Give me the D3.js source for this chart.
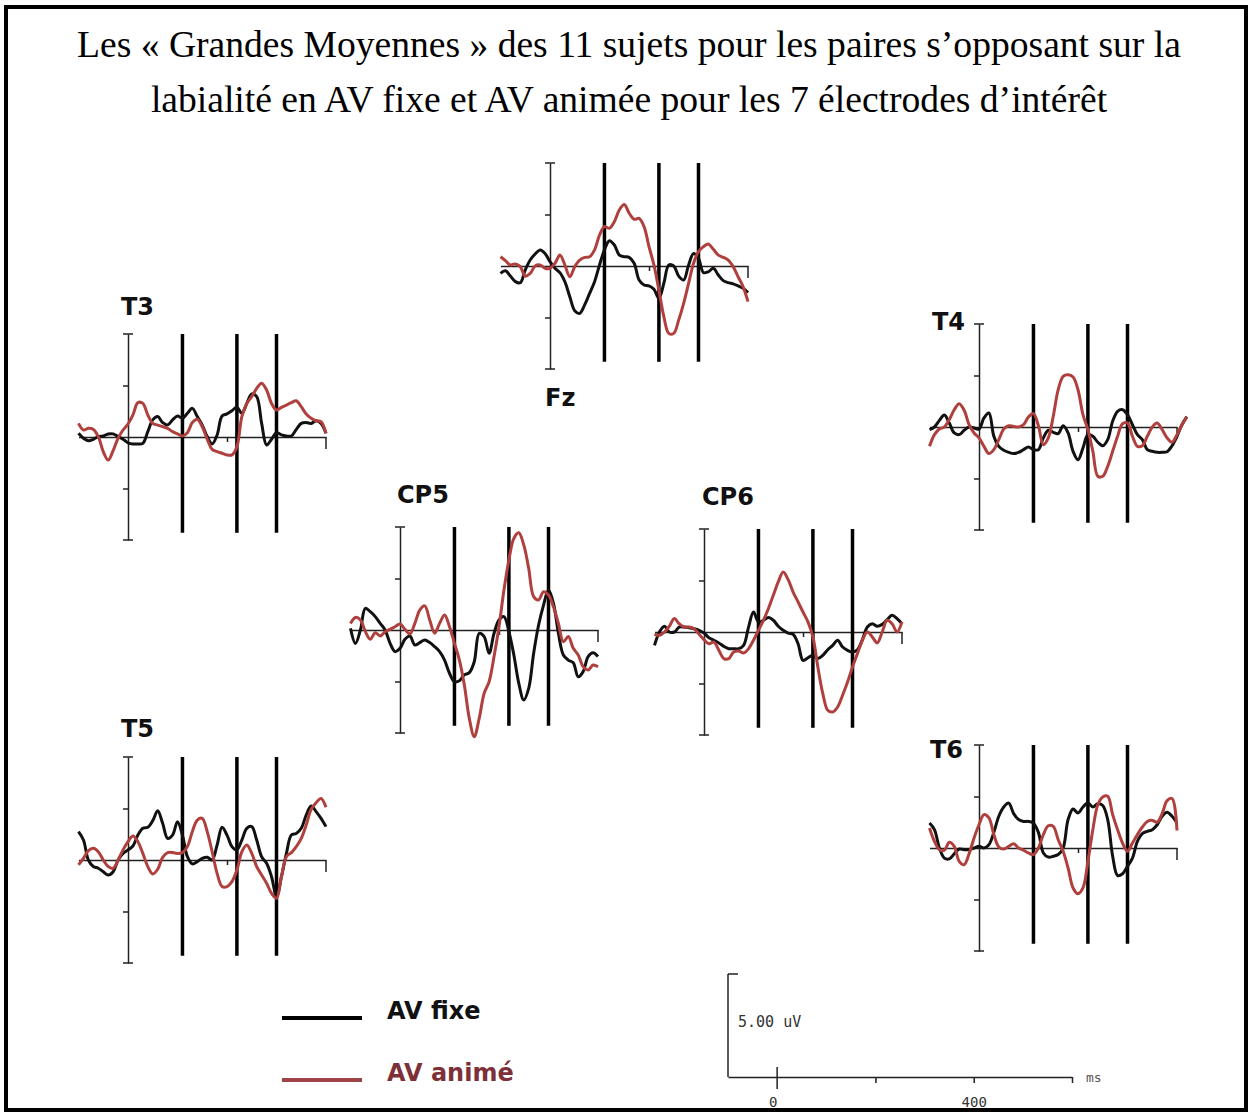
<!DOCTYPE html>
<html>
<head>
<meta charset="utf-8">
<script src="https://cdn.jsdelivr.net/npm/d3@7"></script>
<style>
body { margin: 0; background: #fff; }
</style>
</head>
<body>
<script>
// sampling of the averaged waveforms (ms)
var tStart = -100, tStep = 10;
var electrodes = ["Fz", "T3", "T4", "CP5", "CP6", "T5", "T6"];
var markerTimes = [110, 220, 300];
var seriesNames = ["AV fixe", "AV animé"];

// amplitudes in uV, one value every 10 ms from -100 ms
var fzFixe = [-0.36,-0.23,-0.49,-0.76,-0.81,-0.19,0.29,0.58,0.78,0.61,
  0.21,-0.11,-0.32,-0.76,-1.49,-2.17,-2.3,-1.89,-1.33,-0.76,
  0.05,0.78,1.23,1.02,0.53,0.45,0.42,0.13,-0.68,-0.92,
  -0.97,-1.13,-1.57,-0.84,0.05,0,-0.49,-0.68,0.05,0.61,
  0.37,-0.32,-0.28,-0.11,-0.44,-0.71,-0.81,-0.87,-0.97,-1.08,-1.29];
var fzAnime = [0.45,0.26,0.05,0.1,-0.03,-0.49,-0.36,0,0.05,-0.11,
  -0.11,0.13,0.53,0.05,-0.52,-0.03,0.29,0.42,0.45,0.78,
  1.5,1.91,1.83,2.15,2.72,2.99,2.56,2.27,2.31,1.91,
  0.94,0.05,-1.17,-2.46,-3.27,-3.27,-2.62,-1.81,-0.84,0.13,
  0.7,0.94,1.07,0.81,0.53,0.42,0.29,-0.03,-0.52,-1.0,-1.73];

var t3Fixe = [0.18,-0.06,-0.18,-0.11,0.02,0.05,0.15,0.15,0.02,-0.11,
  -0.28,-0.34,-0.34,-0.31,0.26,0.83,0.99,0.7,0.58,0.83,
  1.02,0.91,1.15,1.39,0.99,0.58,0.02,-0.34,0.1,1.02,
  1.12,1.28,1.44,1.15,1.63,2.09,1.96,0.66,-0.39,-0.11,
  0.21,0.1,0.05,0.05,0.37,0.66,0.7,0.66,0.79,0.66,0.18];
var t3Anime = [0.66,0.34,0.42,0.37,0.02,-0.71,-1.12,-0.66,-0.06,0.34,
  0.63,1.07,1.67,1.63,1.07,0.66,0.58,0.5,0.42,0.26,
  0.15,0.05,0.21,0.7,0.86,0.5,-0.11,-0.6,-0.71,-0.79,
  -0.87,-0.87,-0.47,0.99,1.63,1.96,2.36,2.61,2.28,1.63,
  1.31,1.44,1.55,1.67,1.76,1.47,1.12,0.91,0.79,0.74,0.18];

var t4Fixe = [-0.13,0,0.32,0.58,0.19,-0.29,-0.37,-0.16,0,-0.05,
  -0.1,0.44,0.68,-0.45,-0.94,-1.13,-1.23,-1.29,-1.23,-1.1,
  -0.97,-1.1,-1.1,-0.53,-0.16,-0.26,-0.32,0.06,-0.29,-1.18,
  -1.59,-1.02,-0.37,-0.45,-0.74,-0.91,-0.61,0.28,0.76,0.84,
  0.6,0.11,-0.37,-0.61,-1.1,-1.18,-1.23,-1.23,-1.2,-0.91,
  -0.45,0.11,0.5];
var t4Anime = [-0.94,-0.37,-0.1,0,0.36,0.84,1.13,0.81,0.11,-0.29,
  -0.53,-0.94,-1.29,-1.1,-0.61,-0.1,0.06,0.03,0,0.11,
  0.49,0.65,0.06,-0.86,-0.53,0.52,1.81,2.46,2.54,2.43,
  1.81,0.6,-0.13,-1.18,-2.39,-2.39,-1.91,-1.18,-0.45,0.16,
  0.19,-0.45,-0.94,-0.91,-0.45,0,0.19,-0.13,-0.53,-0.74,
  -0.37,0.11,0.5];

var cp5Fixe = [0.08,-0.65,0,1.05,0.89,0.65,0.32,0,-0.65,-1.05,
  -0.89,-0.45,-0.29,-0.73,-0.61,-0.49,-0.61,-0.81,-1.05,-1.46,
  -2.1,-2.51,-2.46,-2.18,-2.07,-1.54,-0.16,-0.32,-1.13,-0.16,
  0.49,0.65,-0.08,-1.21,-2.59,-3.4,-2.83,-1.13,0.24,1.21,
  1.94,1.29,-0.16,-1.21,-1.46,-1.59,-2.27,-2.02,-1.29,-1.1,-1.29];
var cp5Anime = [0.32,0.61,0.49,-0.08,-0.45,-0.13,-0.29,-0.08,0.03,0.16,
  0.29,0.03,-0.19,0.32,0.97,1.17,0.49,-0.16,0.32,0.73,
  0.16,-0.65,-1.46,-2.67,-4.29,-5.18,-4.29,-3.07,-2.51,-1.29,
  0.16,1.94,3.4,4.45,4.72,4.13,2.99,1.62,1.46,1.86,
  1.7,1.13,0.32,-0.57,-0.32,-0.89,-1.21,-1.78,-1.94,-1.7,-1.78];

var cp6Fixe = [-0.65,0,0.28,0,0,0.24,0.24,0.21,0.16,0.08,
  -0.05,-0.28,-0.4,-0.53,-0.7,-0.81,-0.81,-0.81,-0.65,0.24,
  0.97,0.49,0.57,0.7,0.57,0.28,0.08,-0.05,-0.11,-0.57,
  -1.38,-1.25,-1.13,-1.29,-1.13,-0.86,-0.65,-0.4,-0.73,-0.89,
  -0.97,-0.86,-0.37,0.24,0.4,0.28,0.37,0.6,0.81,0.65,0.4];
var cp6Anime = [-0.11,-0.16,0,0.28,0.65,0.4,0.24,0.24,0.16,-0.11,
  -0.37,-0.57,-0.49,-0.89,-1.29,-1.29,-0.97,-0.92,-1.02,-0.81,
  -0.4,0.08,0.57,1.13,1.78,2.43,2.91,2.54,1.94,1.46,
  0.97,0.49,-0.24,-1.7,-2.99,-3.8,-3.88,-3.64,-3.07,-2.43,
  -1.7,-1.05,-0.4,0,-0.24,-0.53,0,0.57,0.4,0,0.49];

var t5Fixe = [1.38,0.97,0,-0.32,-0.4,-0.57,-0.73,-0.57,0,0.32,
  0.49,0.68,1.21,1.54,1.59,1.91,2.39,1.78,1.05,1.21,
  1.86,1.21,0.16,-0.19,-0.08,0.08,0.13,0,0.73,1.59,
  1.21,0.65,0.49,0.97,1.54,1.62,0.97,0.16,-0.16,-0.81,
  -1.78,-0.81,0.32,1.21,1.29,1.54,2.18,2.62,2.35,2.02,1.62];
var t5Anime = [-0.24,0.08,0.45,0.57,0.4,0,-0.32,-0.4,0,0.49,
  0.89,1.17,0.89,0.32,-0.32,-0.68,-0.45,0.13,0.36,0.36,
  0.32,0.36,0.65,1.38,1.94,2.02,1.38,0.4,-0.65,-1.29,
  -1.29,-1.05,-0.49,0.4,0.73,0.32,-0.32,-0.73,-1.13,-1.62,
  -1.86,-0.81,0.16,0.36,0.65,1.05,1.7,2.46,2.78,2.99,2.56];

var t6Fixe = [1.21,0.89,0,-0.49,-0.53,-0.28,-0.05,-0.08,-0.08,0,
  0.08,0,0.16,0.76,1.54,1.99,2.18,1.67,1.38,1.29,
  1.29,1.21,0.76,-0.24,-0.44,-0.4,-0.32,0,1.38,1.89,
  1.7,1.99,2.18,1.99,2.15,2.06,1.38,-0.4,-1.34,-1.25,
  -0.89,-0.49,0.32,0.7,0.81,0.89,1.13,1.54,1.73,1.54,1.21];
var t6Anime = [0.97,0.32,-0.08,-0.11,0.28,0.08,-0.65,-0.81,-0.28,0.49,
  1.13,1.62,1.46,0.65,0.05,-0.05,0.08,0.21,0,-0.11,
  -0.24,-0.32,0,0.65,1.08,1.05,0.4,-0.16,-0.97,-1.94,
  -2.22,-1.94,-0.65,0.89,2.1,2.48,2.51,1.62,0.89,0.24,
  -0.16,0.24,0.65,1.02,1.29,1.34,1.25,1.67,2.3,2.4,0.85];

var series = {
  Fz: [fzFixe, fzAnime], T3: [t3Fixe, t3Anime], T4: [t4Fixe, t4Anime],
  CP5: [cp5Fixe, cp5Anime], CP6: [cp6Fixe, cp6Anime],
  T5: [t5Fixe, t5Anime], T6: [t6Fixe, t6Anime]
};

// where each small plot sits: time 0 / zero line, and its label
var layout = {
  Fz:  {x0: 550, y0: 266, lx: 545, ly: 406},
  T3:  {x0: 128, y0: 437, lx: 121, ly: 315},
  T4:  {x0: 979, y0: 427, lx: 932, ly: 330},
  CP5: {x0: 400, y0: 630, lx: 397, ly: 503},
  CP6: {x0: 704, y0: 632, lx: 702, ly: 505},
  T5:  {x0: 128, y0: 860, lx: 121, ly: 737},
  T6:  {x0: 979, y0: 848, lx: 930, ly: 758}
};

var colors = ["#111", "#b0403d"];
var pxPerMs = 0.495, halfH = 103;

var svg = d3.select("body").append("svg")
    .attr("width", 1252)
    .attr("height", 1113);

svg.append("rect")
    .attr("x", 6).attr("y", 7)
    .attr("width", 1240).attr("height", 1103)
    .attr("fill", "none")
    .attr("stroke", "#000")
    .attr("stroke-width", 4);

var title = svg.append("text")
    .attr("text-anchor", "middle")
    .attr("font-family", "'Liberation Serif', 'Times New Roman', serif")
    .attr("font-size", 37.6)
    .attr("fill", "#000");
title.append("tspan").attr("x", 629).attr("y", 57)
    .text("Les « Grandes Moyennes » des 11 sujets pour les paires s’opposant sur la");
title.append("tspan").attr("x", 629).attr("y", 112)
    .text("labialité en AV fixe et AV animée pour les 7 électrodes d’intérêt");

electrodes.forEach(function(name) {
    var p = layout[name];
    var data = series[name];
    var x = d3.scaleLinear().domain([0, 100]).range([p.x0, p.x0 + 100 * pxPerMs]);
    var y = d3.scaleLinear().domain([-5, 5]).range([p.y0 + halfH, p.y0 - halfH]);
    var g = svg.append("g").attr("class", "panel");

    // amplitude axis
    g.append("g")
	.attr("transform", "translate(" + x(0) + ",0)")
	.call(d3.axisLeft(y).tickValues([-2.5, 2.5]).tickSize(5).tickSizeOuter(0).tickFormat(""))
	.call(function(a) { a.selectAll("path,line").attr("stroke", "#222").attr("stroke-width", 1.5); });
    g.selectAll(".cap")
	.data([-5, 5])
	.enter().append("line")
	.attr("x1", x(0) - 5).attr("x2", x(0) + 5)
	.attr("y1", function(d) { return y(d); })
	.attr("y2", function(d) { return y(d); })
	.attr("stroke", "#222").attr("stroke-width", 1.5);

    // time axis
    var xa = d3.scaleLinear().domain([-100, 400]).range([x(-100), x(400)]);
    g.append("g")
	.attr("transform", "translate(0," + y(0) + ")")
	.call(d3.axisBottom(xa).tickValues([200]).tickSize(5).tickSizeOuter(0).tickFormat(""))
	.call(function(a) { a.selectAll("path,line").attr("stroke", "#222").attr("stroke-width", 1.5); });
    g.append("line")
	.attr("x1", x(400)).attr("x2", x(400))
	.attr("y1", y(0)).attr("y2", y(0) + 12)
	.attr("stroke", "#222").attr("stroke-width", 1.5);

    // latency markers
    g.selectAll(".marker")
	.data(markerTimes)
	.enter().append("line")
	.attr("x1", function(d) { return x(d); })
	.attr("x2", function(d) { return x(d); })
	.attr("y1", y(5)).attr("y2", y(-4.65))
	.attr("stroke", "#000").attr("stroke-width", 3.5);

    var line = d3.line()
	.x(function(d, i) { return x(tStart + i * tStep); })
	.y(function(d) { return y(d); })
	.curve(d3.curveCatmullRom);

    g.selectAll(".wave")
	.data(data)
	.enter().append("path")
	.attr("d", line)
	.attr("fill", "none")
	.attr("stroke", function(d, i) { return colors[i]; })
	.attr("stroke-width", 3)
	.attr("stroke-linejoin", "round");

    g.append("text")
	.attr("x", p.lx).attr("y", p.ly)
	.attr("font-family", "'DejaVu Sans', sans-serif")
	.attr("font-weight", "bold")
	.attr("font-size", 24)
	.attr("fill", "#111")
	.text(name);
});

// legend
var legend = svg.append("g").attr("class", "legend");
var legendY = d3.scalePoint().domain(seriesNames).range([1018, 1080]);
legend.selectAll("line")
    .data(seriesNames)
    .enter().append("line")
    .attr("x1", 282).attr("x2", 362)
    .attr("y1", function(d) { return legendY(d); })
    .attr("y2", function(d) { return legendY(d); })
    .attr("stroke", function(d, i) { return i ? "#9c4544" : "#000"; })
    .attr("stroke-width", 4);
legend.selectAll("text")
    .data(seriesNames)
    .enter().append("text")
    .attr("x", 387)
    .attr("y", function(d) { return legendY(d) + 1; })
    .attr("font-family", "'DejaVu Sans', sans-serif")
    .attr("font-weight", "bold")
    .attr("font-size", 24)
    .attr("fill", function(d, i) { return i ? "#7e3038" : "#111"; })
    .text(function(d) { return d; });

// calibration bar
var sx = d3.scaleLinear().domain([-100, 600]).range([728, 1072]);
var sy = d3.scaleLinear().domain([0, 5]).range([1077, 974]);
var cal = svg.append("g").attr("class", "calib");
cal.append("g")
    .attr("transform", "translate(0," + sy(0) + ")")
    .call(d3.axisBottom(sx).tickValues([200, 400, 600]).tickSize(6).tickSizeOuter(0)
	  .tickFormat(function(d) { return d === 400 ? "400" : ""; }))
    .call(function(a) {
	a.selectAll("path,line").attr("stroke", "#222").attr("stroke-width", 1.5);
	a.selectAll("text").attr("font-family", "'DejaVu Sans Mono', monospace")
	    .attr("font-size", 14).attr("fill", "#333").attr("dy", null).attr("y", 30);
    });
cal.append("line")
    .attr("x1", sx(0)).attr("x2", sx(0))
    .attr("y1", sy(0) - 10).attr("y2", sy(0) + 12)
    .attr("stroke", "#222").attr("stroke-width", 1.5);
cal.append("text")
    .attr("x", sx(0) - 4).attr("y", sy(0) + 30)
    .attr("text-anchor", "middle")
    .attr("font-family", "'DejaVu Sans Mono', monospace")
    .attr("font-size", 14).attr("fill", "#333")
    .text("0");
cal.append("line")
    .attr("x1", sx(-100)).attr("x2", sx(-100))
    .attr("y1", sy(0)).attr("y2", sy(5))
    .attr("stroke", "#222").attr("stroke-width", 1.5);
cal.append("line")
    .attr("x1", sx(-100)).attr("x2", sx(-100) + 10)
    .attr("y1", sy(5)).attr("y2", sy(5))
    .attr("stroke", "#222").attr("stroke-width", 1.5);
cal.append("text")
    .attr("x", sx(-100) + 10).attr("y", sy(2.5) + 1)
    .attr("font-family", "'DejaVu Sans Mono', monospace")
    .attr("font-size", 15).attr("fill", "#333")
    .text("5.00 uV");
cal.append("text")
    .attr("x", sx(600) + 14).attr("y", sy(0) + 5)
    .attr("font-family", "'DejaVu Sans Mono', monospace")
    .attr("font-size", 13).attr("fill", "#555")
    .text("ms");
</script>
</body>
</html>
